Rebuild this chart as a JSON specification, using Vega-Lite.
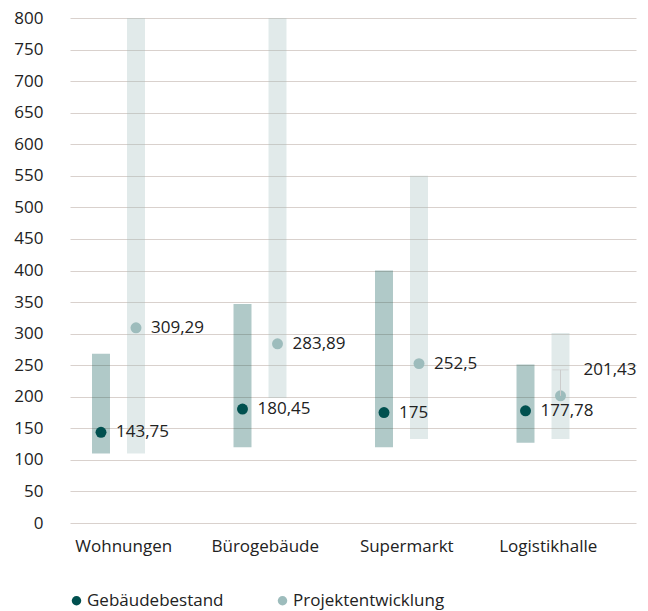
{
  "$schema": "https://vega.github.io/schema/vega-lite/v6.json",
  "autosize": {"type": "none"},
  "padding": {"left": 70, "top": 18, "right": 12, "bottom": 88},
  "width": 566,
  "height": 505,
  "background": "white",
  "config": {
    "view": {"stroke": null},
    "font": "Open Sans",
    "text": {"font": "Open Sans"}
  },
  "data": {
    "values": [
      {"cat": "Wohnungen", "series": "Gebäudebestand", "low": 110, "high": 268, "value": 143.75, "label": "143,75"},
      {"cat": "Wohnungen", "series": "Projektentwicklung", "low": 110, "high": 800, "value": 309.29, "label": "309,29"},
      {"cat": "Bürogebäude", "series": "Gebäudebestand", "low": 120, "high": 347, "value": 180.45, "label": "180,45"},
      {"cat": "Bürogebäude", "series": "Projektentwicklung", "low": 198, "high": 800, "value": 283.89, "label": "283,89"},
      {"cat": "Supermarkt", "series": "Gebäudebestand", "low": 120, "high": 400, "value": 175, "label": "175"},
      {"cat": "Supermarkt", "series": "Projektentwicklung", "low": 133, "high": 550, "value": 252.5, "label": "252,5"},
      {"cat": "Logistikhalle", "series": "Gebäudebestand", "low": 127, "high": 251, "value": 177.78, "label": "177,78"},
      {"cat": "Logistikhalle", "series": "Projektentwicklung", "low": 133, "high": 301, "value": 201.43, "label": "201,43"}
    ]
  },
  "encoding": {
    "x": {
      "field": "cat", "type": "nominal", "sort": null, "title": null,
      "scale": {"paddingInner": 0, "paddingOuter": 0},
      "axis": {"labelAngle": 0, "domain": false, "ticks": false, "labelFontSize": 17, "labelColor": "#222222", "labelPadding": 15, "labelOffset": -17, "labelFont": "Open Sans"}
    },
    "xOffset": {
      "field": "series", "type": "nominal",
      "scale": {"domain": ["Gebäudebestand", "Projektentwicklung"], "range": [22, 75], "paddingInner": 0.486, "paddingOuter": 0}
    },
    "y": {
      "field": "value", "type": "quantitative", "title": null,
      "scale": {"domain": [0, 800], "nice": false, "zero": true},
      "axis": {"values": [0,50,100,150,200,250,300,350,400,450,500,550,600,650,700,750,800], "labelOverlap": false, "domain": false, "ticks": false, "labelFontSize": 17, "labelColor": "#222222", "labelPadding": 27, "gridColor": "#d9d1cd", "gridWidth": 1.2, "labelFont": "Open Sans"}
    },
    "color": {"field": "series", "type": "nominal",
      "scale": {"domain": ["Gebäudebestand", "Projektentwicklung"], "range": ["#00504f", "#9dbcbc"]},
      "legend": {"title": null, "orient": "none", "legendX": -2, "legendY": 574, "direction": "horizontal", "symbolType": "circle", "symbolSize": 90, "symbolOpacity": 1, "labelFontSize": 17, "labelColor": "#222222", "columnPadding": 50, "labelOffset": 2, "labelFont": "Open Sans"}}
  },
  "layer": [
    {
      "mark": {"type": "bar", "opacity": 0.31},
      "encoding": {
        "y": {"field": "low", "type": "quantitative", "title": null,
          "scale": {"domain": [0, 800], "nice": false, "zero": true},
          "axis": {"values": [0,50,100,150,200,250,300,350,400,450,500,550,600,650,700,750,800], "labelOverlap": false, "domain": false, "ticks": false, "labelFontSize": 17, "labelColor": "#222222", "labelPadding": 27, "gridColor": "#d9d1cd", "gridWidth": 1.2, "labelFont": "Open Sans"}},
        "y2": {"field": "high"}
      }
    },
    {
      "mark": {"type": "point", "filled": true, "opacity": 1, "size": 120}
    },
    {
      "transform": [{"filter": "!(datum.cat === 'Logistikhalle' && datum.series === 'Projektentwicklung')"}],
      "mark": {"type": "text", "align": "left", "baseline": "middle", "dx": 15, "fontSize": 17, "color": "#222222"},
      "encoding": {
        "text": {"field": "label"},
        "color": {"value": "#222222"}
      }
    },
    {
      "transform": [{"filter": "datum.cat === 'Logistikhalle' && datum.series === 'Projektentwicklung'"}],
      "mark": {"type": "rule", "color": "#cccccc", "strokeWidth": 1, "y2Offset": -26},
      "encoding": {
        "y2": {"field": "value"},
        "color": {"value": "#cccccc"}
      }
    },
    {
      "transform": [{"filter": "datum.cat === 'Logistikhalle' && datum.series === 'Projektentwicklung'"}],
      "mark": {"type": "tick", "orient": "horizontal", "color": "#cccccc", "thickness": 1, "size": 16, "xOffset": 8, "yOffset": -26},
      "encoding": {
        "color": {"value": "#cccccc"}
      }
    },
    {
      "transform": [{"filter": "datum.cat === 'Logistikhalle' && datum.series === 'Projektentwicklung'"}],
      "mark": {"type": "text", "align": "left", "baseline": "middle", "dx": 23, "dy": -26, "fontSize": 17, "color": "#222222"},
      "encoding": {
        "text": {"field": "label"},
        "color": {"value": "#222222"}
      }
    }
  ]
}
